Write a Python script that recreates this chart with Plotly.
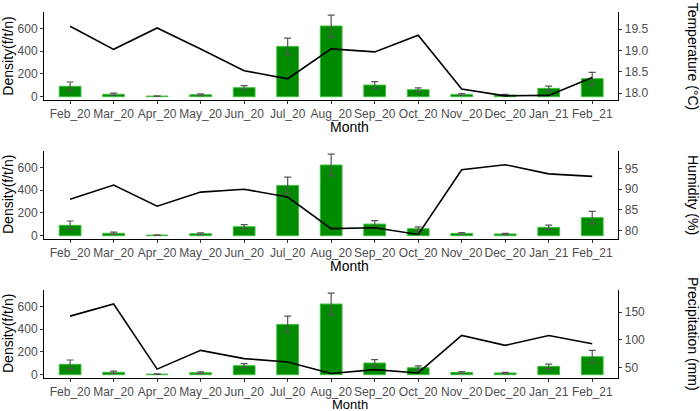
import plotly.graph_objects as go
from plotly.subplots import make_subplots

months = ["Feb_20", "Mar_20", "Apr_20", "May_20", "Jun_20", "Jul_20", "Aug_20",
          "Sep_20", "Oct_20", "Nov_20", "Dec_20", "Jan_21", "Feb_21"]
density = [91, 21, 5, 17, 79, 441, 620, 102, 61, 20, 15, 73, 158]
density_se = [38, 10, 3, 8, 18, 72, 95, 30, 16, 8, 6, 20, 55]
temperature = [19.57, 19.03, 19.53, 19.04, 18.53, 18.34, 19.04, 18.97, 19.36, 18.10, 17.94, 17.95, 18.37]
humidity = [87.6, 91.0, 85.9, 89.3, 90.0, 88.1, 80.5, 80.7, 79.1, 94.7, 95.9, 93.7, 93.1]
precipitation = [143, 165, 47, 81, 66, 60, 39, 46, 40, 108, 90, 108, 93]

env = [
    ("Temperature (°C)", temperature, [17.843, 19.905], [18.0, 18.5, 19.0, 19.5], ".1f"),
    ("Humidity (%)", humidity, [78.0, 99.2], [80, 85, 90, 95], "d"),
    ("Precipitation (mm)", precipitation, [30.9, 190.3], [50, 100, 150], "d"),
]

fig = make_subplots(rows=3, cols=1, specs=[[{"secondary_y": True}]] * 3)

for i, (name, vals, rng, tv, tf) in enumerate(env, start=1):
    fig.add_trace(go.Bar(
        x=months, y=density, width=0.5,
        marker=dict(color="#008B00", line=dict(color="#3CBF3C", width=1)),
        error_y=dict(type="data", array=density_se, visible=True,
                     color="#555555", thickness=1.2, width=3.5),
        showlegend=False), row=i, col=1, secondary_y=False)
    fig.add_trace(go.Scatter(
        x=months, y=vals, mode="lines",
        line=dict(color="black", width=1.6), showlegend=False),
        row=i, col=1, secondary_y=True)

fig.update_layout(
    width=700, height=411, template="none",
    margin=dict(l=44, r=45, t=12, b=33),
    paper_bgcolor="white", plot_bgcolor="white",
    font=dict(family="Liberation Sans, Arial, sans-serif"),
)

axis_common = dict(showgrid=False, zeroline=False, showline=True, linecolor="black",
                   linewidth=1, ticks="outside", ticklen=3, tickcolor="#333333",
                   tickfont=dict(size=12, color="#4D4D4D"), automargin=False)

domains = [[0.7596, 1.0], [0.3798, 0.6202], [0.0, 0.2404]]
for i in range(3):
    xa = "xaxis" if i == 0 else f"xaxis{i+1}"
    fig.layout[xa].update(range=[-0.6, 12.6], type="category", tickangle=0, **axis_common)
    ya = "yaxis" if i == 0 else f"yaxis{2*i+1}"
    yb = f"yaxis{2*i+2}"
    fig.layout[ya].update(domain=domains[i], range=[-29, 743], tickvals=[0, 200, 400, 600],
                          **axis_common)
    fig.layout[yb].update(domain=domains[i], range=env[i][2], tickvals=env[i][3],
                          tickformat=env[i][4], **axis_common)

ann = []
month_y = [0.6866, 0.3068, -0.0715]
mid_y = [0.878, 0.5, 0.1202]
for i in range(3):
    ann.append(dict(text="Month", x=0.5, y=month_y[i], xref="paper", yref="paper",
                    showarrow=False, font=dict(size=14 if i < 2 else 13, color="black"),
                    xanchor="center", yanchor="middle"))
    ann.append(dict(text="Density(f/t/n)", x=-0.0589, y=mid_y[i], xref="paper", yref="paper",
                    showarrow=False, textangle=-90, font=dict(size=14, color="black"),
                    xanchor="center", yanchor="middle"))
    ann.append(dict(text=env[i][0], x=1.0622, y=mid_y[i], xref="paper", yref="paper",
                    showarrow=False, textangle=90, font=dict(size=14, color="black"),
                    xanchor="center", yanchor="middle"))
fig.update_layout(annotations=ann)

fig.write_html("out.html")
